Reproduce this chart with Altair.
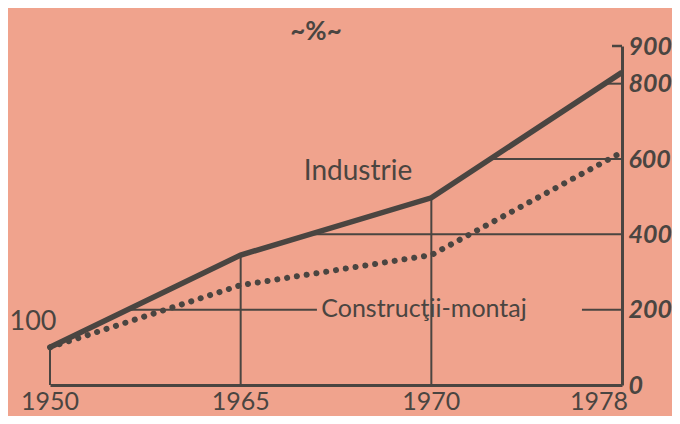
import altair as alt
import pandas as pd

# ---- data ----
years = ["1950", "1965", "1970", "1978"]
industrie = [100, 345, 497, 830]
constructii = [100, 265, 345, 618]
y_ticks = [0, 200, 400, 600, 800, 900]
grid_levels = [200, 400, 600, 800]

INK = "#4a4541"
BG = "#f0a38d"
FONT = "Lato"
W, H = 572, 339

pos = list(range(len(years)))
df = pd.DataFrame({"year": years, "pos": pos,
                   "industrie": industrie, "constructii": constructii})


def crossing(v):
    for i in range(len(industrie) - 1):
        a, b = industrie[i], industrie[i + 1]
        if a <= v <= b:
            return pos[i] + (v - a) / (b - a)
    return pos[-1]


# gridlines run from the Industrie line to the right axis; the 200 line
# is interrupted by the "Construcţii-montaj" label
gap = (1.40, 2.79)
segs = []
for v in grid_levels:
    s = crossing(v)
    if v == 200:
        segs.append({"x": s, "x2": gap[0], "y": v})
        segs.append({"x": gap[1], "x2": pos[-1], "y": v})
    else:
        segs.append({"x": s, "x2": pos[-1], "y": v})
grid_df = pd.DataFrame(segs)

xs = alt.Scale(domain=[0, 3], nice=False, zero=False)
ys = alt.Scale(domain=[0, 900], nice=False)
xa = alt.Axis(title=None, labels=False, ticks=False, grid=False,
              domain=True, domainColor=INK, domainWidth=3)
ya = alt.Axis(orient="right", values=y_ticks, title=None, ticks=False,
              grid=False, domain=True, domainColor=INK, domainWidth=3,
              labelFont=FONT, labelFontStyle="italic", labelFontWeight="bold",
              labelFontSize=25, labelColor=INK, labelPadding=6,
              labelAlign="left", labelBaseline="middle")

grid = alt.Chart(grid_df).mark_rule(color=INK, strokeWidth=2).encode(
    x=alt.X("x:Q", scale=xs, axis=xa),
    x2="x2:Q",
    y=alt.Y("y:Q", scale=ys, axis=ya),
)

verts = alt.Chart(df).transform_calculate(zero="0").mark_rule(
    color=INK, strokeWidth=2).encode(
    x=alt.X("pos:Q", scale=xs, axis=xa),
    y=alt.Y("zero:Q", scale=ys, axis=ya),
    y2="industrie:Q",
)

top_tick = alt.Chart(alt.Data(values=[{}])).mark_rule(
    color=INK, strokeWidth=2.5).encode(
    x=alt.value(W - 10), x2=alt.value(W), y=alt.datum(900, scale=ys))

dotted = alt.Chart(df).mark_line(
    color=INK, strokeWidth=6, strokeDash=[0.1, 9.8], strokeCap="round").encode(
    x=alt.X("pos:Q", scale=xs, axis=xa),
    y=alt.Y("constructii:Q", scale=ys, axis=ya),
)

solid = alt.Chart(df).mark_line(
    color=INK, strokeWidth=5.5, strokeJoin="miter").encode(
    x=alt.X("pos:Q", scale=xs, axis=xa),
    y=alt.Y("industrie:Q", scale=ys, axis=ya),
)

xlab_main = alt.Chart(df).transform_filter("datum.pos < 3").mark_text(
    font=FONT, fontSize=25, color=INK, baseline="alphabetic").encode(
    x=alt.X("pos:Q", scale=xs, axis=xa), y=alt.value(H + 25), text="year:N")
xlab_last = alt.Chart(df).transform_filter("datum.pos == 3").mark_text(
    font=FONT, fontSize=25, color=INK, baseline="alphabetic", dx=-23).encode(
    x=alt.X("pos:Q", scale=xs, axis=xa), y=alt.value(H + 25), text="year:N")


def label(txt, x, y, size=24, weight="normal"):
    return alt.Chart(alt.Data(values=[{}])).mark_text(
        text=txt, font=FONT, fontSize=size, color=INK, fontWeight=weight,
        align="center", baseline="middle").encode(
        x=alt.value(x), y=alt.value(y))


labels = [
    label("~%~", 266, -14, 26, "bold"),
    label("100", -17, 276, 27),
    label("Industrie", 308, 126, 28),
    label("Construcţii-montaj", 374, 263, 25),
]

chart = alt.layer(grid, verts, top_tick, dotted, solid, xlab_main, xlab_last,
                  *labels).properties(
    width=W, height=H,
    autosize=alt.AutoSizeParams(type="none"),
    padding={"left": 42, "top": 38, "right": 50, "bottom": 31},
).configure(background=BG).configure_view(stroke=None)

chart.save("out.html", embed_options={"renderer": "svg", "actions": False})
